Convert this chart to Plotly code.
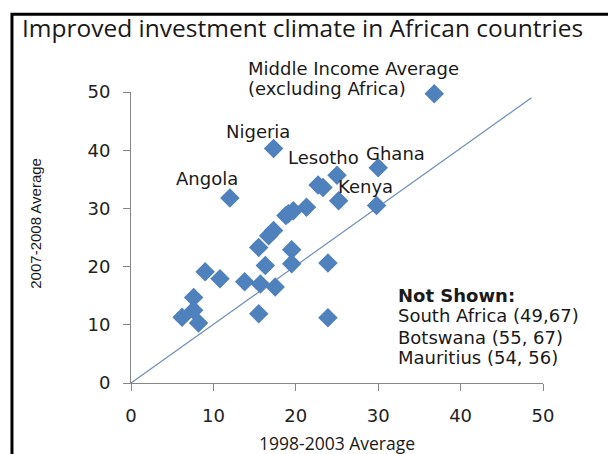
import plotly.graph_objects as go

# Data (1998-2003 average, 2007-2008 average)
x_vals = [36.8, 17.3, 30.0, 25.0, 22.7, 23.3, 25.2, 29.8, 12.0, 21.3, 19.7, 19.1, 18.8,
          17.3, 16.7, 15.5, 19.5, 16.3, 19.5, 23.9, 9.0, 10.8, 13.8, 15.7, 17.5,
          7.6, 7.6, 6.2, 8.2, 15.5, 23.9]
y_vals = [49.7, 40.3, 37.0, 35.7, 34.0, 33.6, 31.3, 30.5, 31.8, 30.2, 29.6, 29.1, 28.8,
          26.2, 25.3, 23.3, 22.9, 20.2, 20.5, 20.6, 19.1, 17.9, 17.4, 17.0, 16.5,
          14.7, 12.5, 11.3, 10.3, 11.9, 11.2]

diag_x = [0, 48.6]
diag_y = [0, 49.0]

labels = ["Middle Income Average", "(excluding Africa)", "Nigeria", "Lesotho", "Ghana", "Angola", "Kenya"]
not_shown = ["<b>Not Shown:</b>", "South Africa (49,67)", "Botswana (55, 67)", "Mauritius (54, 56)"]

ticks = [0, 10, 20, 30, 40, 50]

title = "Improved investment climate in African countries"
x_title = "1998-2003 Average"
y_title = "2007-2008 Average"

BLUE = "#4F81BD"
TXT = "#1a1a1a"
LABEL_FONT = dict(family="DejaVu Sans, sans-serif", size=18, color=TXT)

# page offset (body margin) and geometry
OFF = 8
W, H = 616 - OFF, 454 - OFF
L, R, T, B = 130.7 - OFF, 616 - 543.3, 91.7 - OFF, 454 - 382.7
pw, ph = W - L - R, H - T - B


def px_to_paper(px, py):
    return (px - OFF - L) / pw, (H - B - (py - OFF)) / ph


fig = go.Figure()
fig.add_trace(go.Scatter(x=diag_x, y=diag_y, mode="lines",
                         line=dict(color="#6E8DBB", width=1.2), hoverinfo="skip"))
fig.add_trace(go.Scatter(x=x_vals, y=y_vals, mode="markers", cliponaxis=False,
                         marker=dict(symbol="diamond", size=15, color=BLUE,
                                     line=dict(width=0))))

# label placements in page pixels (left edge, vertical centre)
label_pos = [(246, 68.3), (246, 88.3), (224, 131), (286, 156.7), (364, 152.7), (174, 178.3), (335.5, 186)]
ns_pos = [(396.5, 295), (396.5, 315), (396.5, 336.7), (396.5, 356.7)]

annotations = []
for t, (px, py) in zip(labels + not_shown, label_pos + ns_pos):
    ax, ay = px_to_paper(px, py)
    annotations.append(dict(text=t, x=ax, y=ay, xref="paper", yref="paper", showarrow=False,
                            xanchor="left", yanchor="middle", align="left", font=LABEL_FONT))

tx, ty = px_to_paper(20, 27)
annotations.append(dict(text=title, x=tx, y=ty, xref="paper", yref="paper", showarrow=False,
                        xanchor="left", yanchor="middle",
                        font=dict(family="Open Sans, sans-serif", size=24.5, color=TXT)))
xtx, xty = px_to_paper(337, 443)
annotations.append(dict(text=x_title, x=xtx, y=xty, xref="paper", yref="paper", showarrow=False,
                        xanchor="center", yanchor="middle",
                        font=dict(family="Open Sans, sans-serif", size=17.5, color=TXT)))
ytx, yty = px_to_paper(35, 223)
annotations.append(dict(text=y_title, x=ytx, y=yty, xref="paper", yref="paper", showarrow=False,
                        xanchor="center", yanchor="middle", textangle=-90,
                        font=dict(family="Liberation Sans Narrow, Arial Narrow, sans-serif",
                                  size=15, color=TXT)))

bx0, by1 = px_to_paper(11.5, 14)
bx1, by0 = px_to_paper(660, 500)

axis_common = dict(range=[0, 50], tickvals=ticks, showgrid=False, zeroline=False,
                   showline=True, linecolor="#868686", linewidth=1,
                   ticks="outside", ticklen=7, tickcolor="#868686", tickwidth=1,
                   tickfont=dict(family="DejaVu Sans, sans-serif", size=18, color="#222"),
                   ticklabelstandoff=9)

fig.update_layout(
    width=W, height=H,
    margin=dict(l=L, r=R, t=T, b=B, pad=0),
    paper_bgcolor="white", plot_bgcolor="white",
    showlegend=False,
    xaxis=axis_common,
    yaxis=axis_common,
    annotations=annotations,
    shapes=[dict(type="rect", xref="paper", yref="paper", x0=bx0, x1=bx1, y0=by0, y1=by1,
                 line=dict(color="black", width=3), layer="below")],
)

fig.write_html("out.html")
